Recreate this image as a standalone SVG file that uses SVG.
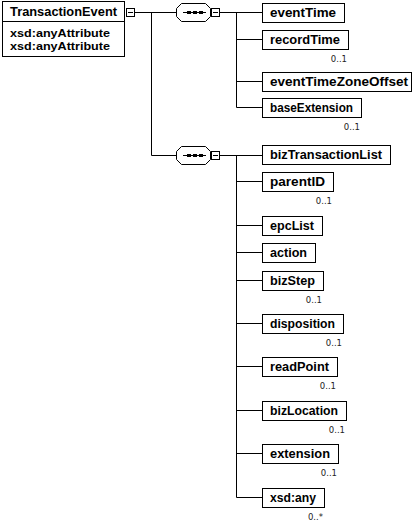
<svg xmlns="http://www.w3.org/2000/svg" width="417" height="530" viewBox="0 0 417 530">
<style>
.bg{fill:#fff}
.box{fill:#fff;stroke:#000;stroke-width:1}
.lbl{font-family:"Liberation Sans",Arial,sans-serif;font-weight:bold;font-size:12.5px;fill:#000}
.att{font-family:"Liberation Sans",Arial,sans-serif;font-weight:bold;font-size:11.5px;fill:#000}
.card{font-family:"DejaVu Sans",Verdana,sans-serif;font-size:8.5px;fill:#222;text-anchor:end}
.ln{stroke:#000;stroke-width:1;fill:none}
.oct{fill:#fff;stroke:#000;stroke-width:1}
.dot{fill:#000}
</style>
<defs>
<g id="minus"><rect x="0.5" y="0.5" width="8" height="8" fill="#fff" stroke="#000"/><line x1="2" y1="4.5" x2="7" y2="4.5" stroke="#000"/></g>
<g id="seq">
<polygon class="oct" points="5,0.5 29,0.5 34,5.5 34,13.5 29,18.5 5,18.5 0,13.5 0,5.5"/>
<line x1="6.5" y1="9.5" x2="29.5" y2="9.5" stroke="#000"/>
<rect class="dot" x="10.5" y="8" width="4" height="3"/>
<rect class="dot" x="16.5" y="8" width="4" height="3"/>
<rect class="dot" x="22.5" y="8" width="4" height="3"/>
</g>
</defs>
<rect class="bg" x="0" y="0" width="417" height="530"/>
<g id="connectors">
<line class="ln" x1="135" y1="12.5" x2="176.5" y2="12.5"/>
<line class="ln" x1="151.5" y1="12.5" x2="151.5" y2="155.5"/>
<line class="ln" x1="151.5" y1="155.5" x2="176.5" y2="155.5"/>
<line class="ln" x1="220" y1="12.5" x2="262.5" y2="12.5"/>
<line class="ln" x1="236.5" y1="12.5" x2="236.5" y2="107.5"/>
<line class="ln" x1="236.5" y1="39.5" x2="262.5" y2="39.5"/>
<line class="ln" x1="236.5" y1="81.5" x2="262.5" y2="81.5"/>
<line class="ln" x1="236.5" y1="107.5" x2="262.5" y2="107.5"/>
<line class="ln" x1="220" y1="155.5" x2="262.5" y2="155.5"/>
<line class="ln" x1="236.5" y1="155.5" x2="236.5" y2="497.5"/>
<line class="ln" x1="236.5" y1="181.5" x2="262.5" y2="181.5"/>
<line class="ln" x1="236.5" y1="225.5" x2="262.5" y2="225.5"/>
<line class="ln" x1="236.5" y1="252.5" x2="262.5" y2="252.5"/>
<line class="ln" x1="236.5" y1="280.5" x2="262.5" y2="280.5"/>
<line class="ln" x1="236.5" y1="323.5" x2="262.5" y2="323.5"/>
<line class="ln" x1="236.5" y1="366.5" x2="262.5" y2="366.5"/>
<line class="ln" x1="236.5" y1="410.5" x2="262.5" y2="410.5"/>
<line class="ln" x1="236.5" y1="453.5" x2="262.5" y2="453.5"/>
<line class="ln" x1="236.5" y1="497.5" x2="262.5" y2="497.5"/>
</g>
<g id="TransactionEvent">
<rect class="box" x="2.5" y="1.5" width="122" height="55"/>
<line class="ln" x1="2.5" y1="21.5" x2="124.5" y2="21.5"/>
<text class="lbl" x="10" y="16" textLength="107" lengthAdjust="spacingAndGlyphs">TransactionEvent</text>
<text class="att" x="10" y="37" textLength="100" lengthAdjust="spacingAndGlyphs">xsd:anyAttribute</text>
<text class="att" x="10" y="49.5" textLength="100" lengthAdjust="spacingAndGlyphs">xsd:anyAttribute</text>
<use href="#minus" x="126" y="8"/>
</g>
<g id="sequence1">
<use href="#seq" x="176.5" y="3"/>
<use href="#minus" x="211" y="8"/>
</g>
<g id="sequence2">
<use href="#seq" x="176.5" y="146"/>
<use href="#minus" x="211" y="151"/>
</g>
<g id="eventTime"><rect class="box" x="262.5" y="3.5" width="82" height="19"/><text class="lbl" x="270" y="17" textLength="66" lengthAdjust="spacingAndGlyphs">eventTime</text></g>
<g id="recordTime"><rect class="box" x="262.5" y="30.5" width="86" height="19"/><text class="lbl" x="270" y="44" textLength="70" lengthAdjust="spacingAndGlyphs">recordTime</text><text class="card" x="347" y="62">0..1</text></g>
<g id="eventTimeZoneOffset"><rect class="box" x="262.5" y="72.5" width="149" height="19"/><text class="lbl" x="270" y="86" textLength="138" lengthAdjust="spacingAndGlyphs">eventTimeZoneOffset</text></g>
<g id="baseExtension"><rect class="box" x="262.5" y="98.5" width="99" height="19"/><text class="lbl" x="270" y="112" textLength="83" lengthAdjust="spacingAndGlyphs">baseExtension</text><text class="card" x="360" y="130">0..1</text></g>
<g id="bizTransactionList"><rect class="box" x="262.5" y="145.5" width="128" height="19"/><text class="lbl" x="270" y="159" textLength="112" lengthAdjust="spacingAndGlyphs">bizTransactionList</text></g>
<g id="parentID"><rect class="box" x="262.5" y="172.5" width="71" height="19"/><text class="lbl" x="270" y="186" textLength="55" lengthAdjust="spacingAndGlyphs">parentID</text><text class="card" x="332" y="204">0..1</text></g>
<g id="epcList"><rect class="box" x="262.5" y="216.5" width="60" height="19"/><text class="lbl" x="270" y="230" textLength="44" lengthAdjust="spacingAndGlyphs">epcList</text></g>
<g id="action"><rect class="box" x="262.5" y="243.5" width="53" height="19"/><text class="lbl" x="270" y="257" textLength="37" lengthAdjust="spacingAndGlyphs">action</text></g>
<g id="bizStep"><rect class="box" x="262.5" y="271.5" width="61" height="19"/><text class="lbl" x="270" y="285" textLength="45" lengthAdjust="spacingAndGlyphs">bizStep</text><text class="card" x="322" y="303">0..1</text></g>
<g id="disposition"><rect class="box" x="262.5" y="314.5" width="81" height="19"/><text class="lbl" x="270" y="328" textLength="65" lengthAdjust="spacingAndGlyphs">disposition</text><text class="card" x="342" y="346">0..1</text></g>
<g id="readPoint"><rect class="box" x="262.5" y="357.5" width="75" height="19"/><text class="lbl" x="270" y="371" textLength="59" lengthAdjust="spacingAndGlyphs">readPoint</text><text class="card" x="336" y="389">0..1</text></g>
<g id="bizLocation"><rect class="box" x="262.5" y="401.5" width="84" height="19"/><text class="lbl" x="270" y="415" textLength="68" lengthAdjust="spacingAndGlyphs">bizLocation</text><text class="card" x="345" y="433">0..1</text></g>
<g id="extension"><rect class="box" x="262.5" y="444.5" width="76" height="19"/><text class="lbl" x="270" y="458" textLength="60" lengthAdjust="spacingAndGlyphs">extension</text><text class="card" x="337" y="476">0..1</text></g>
<g id="xsd_any"><rect class="box" x="262.5" y="488.5" width="62" height="19"/><text class="lbl" x="270" y="502" textLength="46" lengthAdjust="spacingAndGlyphs">xsd:any</text><text class="card" x="323" y="520">0..*</text></g>
</svg>
